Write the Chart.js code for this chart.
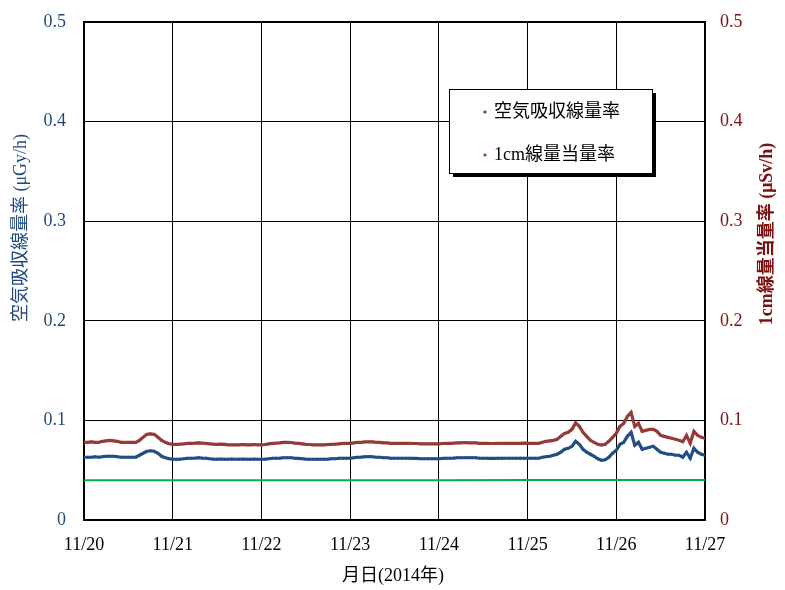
<!DOCTYPE html>
<html>
<head>
<meta charset="utf-8">
<script src="https://cdn.jsdelivr.net/npm/chart.js@4/dist/chart.umd.min.js"></script>
<style>
  html, body { margin: 0; padding: 0; background: #fff; }
  #wrap { width: 785px; height: 590px; }
</style>
</head>
<body>
<div id="wrap"><canvas id="graph" width="785" height="590"></canvas></div>
<script>
// day tick labels (x axis, one per 24 h)
const dayLabels = ['11/20', '11/21', '11/22', '11/23', '11/24', '11/25', '11/26', '11/27']

// hourly air absorbed dose rate (µGy/h), 11/20 00:00 .. 11/27 00:00
const airDose = [
  0.063, 0.063, 0.063, 0.0635, 0.063, 0.0635, 0.064, 0.064, 0.064, 0.0635, 0.063, 0.063,
  0.063, 0.063, 0.063, 0.065, 0.067, 0.069, 0.0695, 0.069, 0.067, 0.064, 0.0625, 0.0615,
  0.061, 0.061, 0.0612, 0.0615, 0.062, 0.062, 0.0622, 0.0625, 0.0622, 0.062, 0.0615, 0.0612,
  0.061, 0.0612, 0.061, 0.061, 0.0612, 0.061, 0.061, 0.0612, 0.061, 0.061, 0.0612, 0.061,
  0.061, 0.0612, 0.0615, 0.062, 0.062, 0.0622, 0.0625, 0.0625, 0.0625, 0.062, 0.0618, 0.0615,
  0.0612, 0.061, 0.061, 0.061, 0.061, 0.061, 0.0612, 0.0615, 0.0615, 0.062, 0.062, 0.062,
  0.062, 0.0625, 0.063, 0.0632, 0.0635, 0.0636, 0.0635, 0.063, 0.063, 0.0625, 0.0625, 0.062,
  0.062, 0.062, 0.062, 0.062, 0.062, 0.0618, 0.0618, 0.0615, 0.0615, 0.0615, 0.0615, 0.0615,
  0.0615, 0.0618, 0.062, 0.062, 0.0622, 0.0625, 0.0625, 0.0625, 0.0625, 0.0625, 0.0625, 0.062,
  0.062, 0.062, 0.0618, 0.0618, 0.062, 0.062, 0.062, 0.062, 0.062, 0.062, 0.062, 0.062,
  0.062, 0.062, 0.062, 0.062, 0.063, 0.0635, 0.064, 0.065, 0.066, 0.068, 0.071, 0.072,
  0.074, 0.079, 0.076, 0.071, 0.068, 0.066, 0.064, 0.0615, 0.060, 0.0605, 0.063, 0.067,
  0.070, 0.076, 0.078, 0.084, 0.088, 0.075, 0.078, 0.071, 0.072, 0.073, 0.074, 0.071,
  0.068, 0.067, 0.066, 0.066, 0.065, 0.065, 0.063, 0.068, 0.062, 0.072, 0.068, 0.066,
  0.065
]

// hourly 1cm dose equivalent rate (µSv/h)
const doseEq = [
  0.078, 0.078, 0.0785, 0.078, 0.078, 0.079, 0.0795, 0.080, 0.0795, 0.079, 0.078, 0.078,
  0.078, 0.078, 0.078, 0.080, 0.083, 0.086, 0.0865, 0.086, 0.083, 0.080, 0.078, 0.0765,
  0.076, 0.076, 0.0762, 0.0765, 0.077, 0.077, 0.0772, 0.0775, 0.0772, 0.077, 0.0765, 0.0762,
  0.076, 0.0762, 0.076, 0.0755, 0.0755, 0.0755, 0.0755, 0.0758, 0.0755, 0.0755, 0.0758, 0.0755,
  0.0755, 0.0758, 0.0765, 0.077, 0.0772, 0.0775, 0.078, 0.078, 0.0778, 0.0772, 0.077, 0.0765,
  0.076, 0.0758, 0.0755, 0.0755, 0.0755, 0.0755, 0.0758, 0.076, 0.0762, 0.0765, 0.077, 0.077,
  0.077, 0.0775, 0.078, 0.078, 0.0785, 0.0785, 0.0785, 0.078, 0.078, 0.0775, 0.0775, 0.077,
  0.077, 0.077, 0.077, 0.077, 0.077, 0.0768, 0.0768, 0.0765, 0.0765, 0.0765, 0.0765, 0.0765,
  0.0765, 0.0768, 0.077, 0.077, 0.0772, 0.0775, 0.0775, 0.0778, 0.0775, 0.0775, 0.0775, 0.077,
  0.077, 0.077, 0.0768, 0.0768, 0.077, 0.077, 0.077, 0.077, 0.077, 0.077, 0.077, 0.0772,
  0.077, 0.077, 0.077, 0.077, 0.078, 0.079, 0.0795, 0.080, 0.081, 0.084, 0.087, 0.088,
  0.091, 0.0975, 0.094, 0.088, 0.084, 0.080, 0.078, 0.076, 0.0753, 0.076, 0.079, 0.083,
  0.087, 0.094, 0.097, 0.104, 0.108, 0.094, 0.097, 0.089, 0.090, 0.091, 0.091, 0.089,
  0.085, 0.084, 0.083, 0.082, 0.081, 0.080, 0.0786, 0.085, 0.077, 0.089, 0.085, 0.083,
  0.082
]

// green reference level, one value per day mark
const refLevel = [0.040, 0.040, 0.040, 0.040, 0.040, 0.0402, 0.0402, 0.0402]

const yTicks = [0, 0.1, 0.2, 0.3, 0.4, 0.5]

const serif = '"Liberation Serif", "Times New Roman", "Noto Sans CJK JP", serif'
const blueTxt = '#1F497D'
const redTxt = '#7F1010'

const toPts = arr => arr.map((v, i) => ({ x: i, y: v }))

// fixed axis box sizes so the plot area sits where the original one does
const fixWidth = w => s => {
  s.width = w
  s.paddingTop = 0
  s.paddingBottom = 0
}

// axis titles + boxed legend
const extras = {
  id: 'extras',
  beforeDatasetsDraw(chart) {
    const { ctx, chartArea: a } = chart
    ctx.save()
    ctx.strokeStyle = '#000'
    ctx.lineWidth = 2
    ctx.strokeRect(a.left, a.top, a.right - a.left, a.bottom - a.top)
    ctx.restore()
  },
  afterDraw(chart) {
    const { ctx } = chart
    ctx.save()
    ctx.textBaseline = 'middle'
    ctx.textAlign = 'center'

    ctx.font = '18px ' + serif
    ctx.fillStyle = blueTxt
    ctx.translate(21, 228)
    ctx.rotate(-Math.PI / 2)
    ctx.fillText('空気吸収線量率 (μGy/h)', 0, 0)
    ctx.restore()

    ctx.save()
    ctx.textBaseline = 'middle'
    ctx.textAlign = 'center'
    ctx.font = 'bold 18px ' + serif
    ctx.fillStyle = redTxt
    ctx.translate(767, 234)
    ctx.rotate(-Math.PI / 2)
    ctx.fillText('1cm線量当量率 (μSv/h)', 0, 0)
    ctx.restore()

    ctx.save()
    ctx.textBaseline = 'middle'
    ctx.textAlign = 'center'
    ctx.font = '18px ' + serif
    ctx.fillStyle = '#000'
    ctx.fillText('月日(2014年)', 393, 576)

    // legend box
    const bx = 449, by = 89, bw = 203, bh = 84
    ctx.fillStyle = '#000'
    ctx.fillRect(bx + 4, by + 4, bw, bh)
    ctx.fillStyle = '#fff'
    ctx.fillRect(bx, by, bw, bh)
    ctx.strokeStyle = '#000'
    ctx.lineWidth = 1
    ctx.strokeRect(bx + 0.5, by + 0.5, bw, bh)
    ctx.textAlign = 'left'
    const ds = chart.data.datasets
    ;[0, 1].forEach((k, i) => {
      const yy = 112 + i * 43
      ctx.fillStyle = ds[k].borderColor
      ctx.beginPath()
      ctx.arc(485, yy, 1.6, 0, Math.PI * 2)
      ctx.fill()
      ctx.fillStyle = '#000'
      ctx.fillText(ds[k].label, 494, yy)
    })
    ctx.restore()
  }
}

new Chart(document.getElementById('graph'), {
  type: 'line',
  data: {
    datasets: [
      {
        label: '空気吸収線量率',
        data: toPts(airDose),
        borderColor: '#224E86',
        backgroundColor: '#224E86',
        borderWidth: 3.2,
        pointRadius: 1.4,
        pointBorderWidth: 0,
        yAxisID: 'y'
      },
      {
        label: '1cm線量当量率',
        data: toPts(doseEq),
        borderColor: '#963A38',
        backgroundColor: '#963A38',
        borderWidth: 3.2,
        pointRadius: 1.4,
        pointBorderWidth: 0,
        yAxisID: 'y2'
      },
      {
        label: 'ref',
        data: refLevel.map((v, i) => ({ x: i * 24, y: v })),
        borderColor: '#00B050',
        borderWidth: 2,
        pointRadius: 0,
        yAxisID: 'y'
      }
    ]
  },
  options: {
    responsive: false,
    animation: false,
    events: [],
    layout: { padding: { top: 22, left: 0, right: 0, bottom: 0 } },
    plugins: { legend: { display: false }, tooltip: { enabled: false } },
    scales: {
      x: {
        type: 'linear',
        min: 0,
        max: (dayLabels.length - 1) * 24,
        afterFit: s => { s.height = 70 },
        afterBuildTicks: s => { s.ticks = dayLabels.map((d, i) => ({ value: i * 24 })) },
        ticks: {
          autoSkip: false,
          maxRotation: 0,
          padding: 14,
          color: '#000',
          font: { family: serif, size: 18 },
          callback: v => dayLabels[Math.round(v / 24)]
        },
        grid: { color: '#000', lineWidth: 1, drawTicks: false },
        border: { color: '#000', width: 2 }
      },
      y: {
        position: 'left',
        min: 0,
        max: 0.5,
        afterFit: fixWidth(84),
        afterBuildTicks: s => { s.ticks = yTicks.map(v => ({ value: v })) },
        ticks: {
          padding: 18,
          color: blueTxt,
          font: { family: serif, size: 18 },
          callback: v => String(+v.toFixed(1))
        },
        grid: { color: '#000', lineWidth: 1, drawTicks: false },
        border: { color: '#000', width: 2 }
      },
      y2: {
        position: 'right',
        min: 0,
        max: 0.5,
        afterFit: fixWidth(80),
        afterBuildTicks: s => { s.ticks = yTicks.map(v => ({ value: v })) },
        ticks: {
          padding: 15,
          color: redTxt,
          font: { family: serif, size: 18 },
          callback: v => String(+v.toFixed(1))
        },
        grid: { display: false, drawTicks: false },
        border: { color: '#000', width: 2 }
      }
    }
  },
  plugins: [extras]
})
</script>
</body>
</html>
